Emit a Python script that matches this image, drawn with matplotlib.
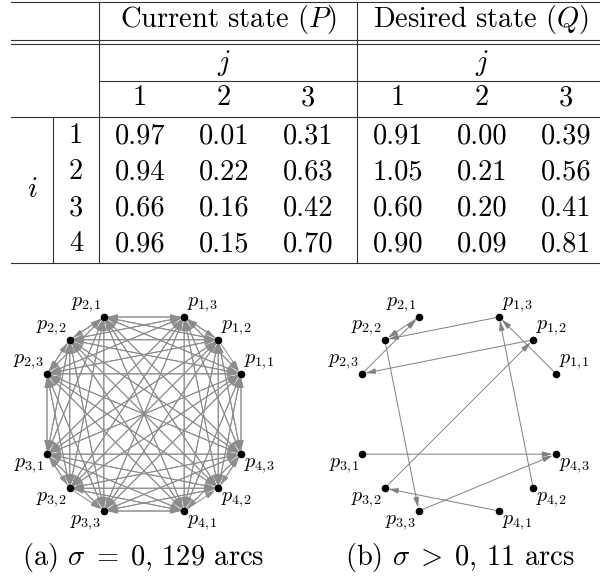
import numpy as np
import matplotlib
matplotlib.use("Agg")
import matplotlib.pyplot as plt

plt.rcParams['font.family'] = 'cmr10'
plt.rcParams['mathtext.fontset'] = 'cm'
plt.rcParams['axes.formatter.use_mathtext'] = True

# table values, rows i = 1..4, columns j = 1..3
current_state = [[0.97, 0.01, 0.31],
                 [0.94, 0.22, 0.63],
                 [0.66, 0.16, 0.42],
                 [0.96, 0.15, 0.70]]
desired_state = [[0.91, 0.00, 0.39],
                 [1.05, 0.21, 0.56],
                 [0.60, 0.20, 0.41],
                 [0.90, 0.09, 0.81]]
row_labels = [1, 2, 3, 4]
col_labels = [1, 2, 3]

# nodes p_{i,j}
nodes = [(i, j) for i in row_labels for j in col_labels]

# (a) sigma = 0 : every ordered pair except these
missing_arcs_a = [((1, 1), (1, 2)), ((3, 3), (3, 2)), ((4, 2), (4, 1))]
# (b) sigma > 0
arcs_b = [((1, 1), (1, 3)), ((4, 2), (1, 3)), ((1, 3), (2, 2)),
          ((2, 1), (2, 2)), ((2, 3), (2, 1)), ((1, 2), (2, 3)),
          ((2, 2), (3, 3)), ((3, 2), (1, 2)), ((3, 1), (4, 3)),
          ((3, 3), (4, 3)), ((4, 1), (3, 2))]
captions = [r'(a) $\sigma\;=\;0$, 129 arcs', r'(b) $\sigma\;>\;0$, 11 arcs']

fig = plt.figure(figsize=(6, 5.77), dpi=100)
ax = fig.add_axes([0, 0, 1, 1])
ax.set_xlim(0, 600)
ax.set_ylim(577, 0)
ax.axis('off')

# ---- table ----
rule = dict(color='#333333', lw=0.8)
left, right = 11, 600
for y in [1.5, 39.5, 43.5, 117, 262.5]:
    ax.plot([left, right], [y, y], **rule)
ax.plot([99, right], [81, 81], **rule)
ax.plot([99, 99], [1.5, 262.5], **rule)
ax.plot([357, 357], [1.5, 262.5], **rule)
ax.plot([53, 53], [117, 262.5], **rule)

fs = 20.5
ax.text(228, 27, 'Current state $(P)$', fontsize=fs, ha='center', va='baseline')
ax.text(481, 27, 'Desired state $(Q)$', fontsize=fs, ha='center', va='baseline')

p_cols = [140, 224, 308]
q_cols = [398, 482, 566]
row_y = [143, 179, 215, 251]
for cols, vals in [(p_cols, current_state), (q_cols, desired_state)]:
    ax.text(cols[1], 70, '$j$', fontsize=fs, ha='center', va='baseline')
    for x, c in zip(cols, col_labels):
        ax.text(x, 105, str(c), fontsize=fs, ha='center', va='baseline')
    for r, y in enumerate(row_y):
        for k, x in enumerate(cols):
            ax.text(x, y, f'{vals[r][k]:.2f}', fontsize=fs, ha='center', va='baseline')
for r, y in zip(row_labels, row_y):
    ax.text(76, y, str(r), fontsize=fs, ha='center', va='baseline')
ax.text(32, 197, '$i$', fontsize=fs, ha='center', va='baseline')


# ---- graphs ----
def node_pos(center, i, j, radius=105):
    ang = np.deg2rad(90 * (i - 1) + 22.5 * j)
    return center[0] + radius * np.cos(ang), center[1] - radius * np.sin(ang)


def draw_graph(center, arcs, caption, cap_x, color):
    pos = {n: node_pos(center, *n) for n in nodes}
    for a, b in arcs:
        ax.annotate('', xy=pos[b], xytext=pos[a],
                    arrowprops=dict(arrowstyle='-|>,head_length=0.6,head_width=0.16',
                                    mutation_scale=10, color=color, lw=0.7,
                                    shrinkA=2, shrinkB=2.5))
    xs = [pos[n][0] for n in nodes]
    ys = [pos[n][1] for n in nodes]
    ax.scatter(xs, ys, s=20, color='black', zorder=5)
    for (i, j) in nodes:
        x, y = pos[(i, j)]
        ha = 'left' if i in (1, 4) else 'right'
        va = 'bottom' if i in (1, 2) else 'top'
        dx = 3 if ha == 'left' else -3
        dy = -3 if va == 'bottom' else 2
        ax.text(x + dx, y + dy, f'$p_{{{i},\\!{j}}}$', fontsize=14.5, ha=ha, va=va)
    ax.text(cap_x, 565, caption, fontsize=fs, ha='center', va='baseline')


arcs_a = [(a, b) for a in nodes for b in nodes
          if a != b and (a, b) not in missing_arcs_a]
draw_graph((144, 414), arcs_a, captions[0], 143.5, '#8c8c8c')
draw_graph((459, 414), arcs_b, captions[1], 460, '#808080')

fig.savefig('out.png', dpi=100)
